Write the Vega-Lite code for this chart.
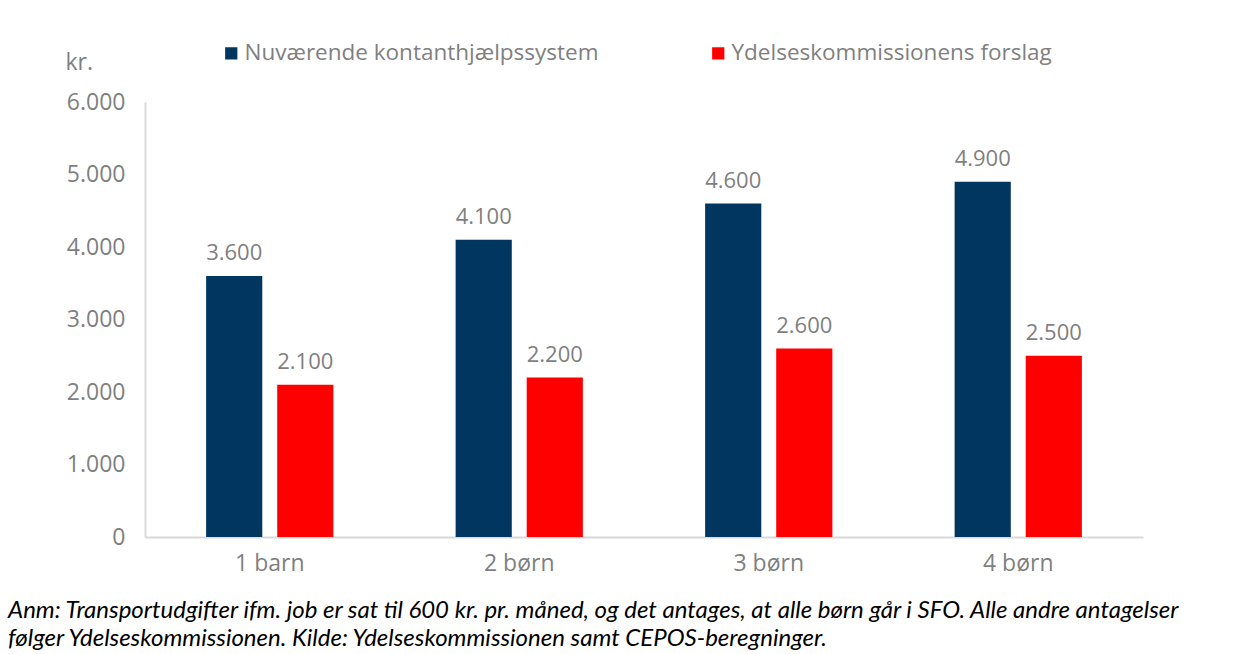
{
  "$schema": "https://vega.github.io/schema/vega-lite/v6.json",
  "autosize": {"type": "none"},
  "width": 998,
  "height": 435,
  "padding": {"left": 145, "top": 102, "right": 105, "bottom": 117},
  "background": "white",
  "config": {
    "locale": {"number": {"decimal": ",", "thousands": ".", "grouping": [3], "currency": ["", " kr."]}},
    "view": {"stroke": null},
    "font": "Open Sans"
  },
  "title": {
    "text": ["Anm: Transportudgifter ifm. job er sat til 600 kr. pr. måned, og det antages, at alle børn går i SFO. Alle andre antagelser", "følger Ydelseskommissionen. Kilde: Ydelseskommissionen samt CEPOS-beregninger."],
    "orient": "bottom",
    "anchor": "start",
    "frame": "group",
    "dx": -137,
    "offset": 24,
    "font": "Lato",
    "fontStyle": "italic",
    "fontWeight": "normal",
    "fontSize": 24,
    "lineHeight": 28,
    "color": "#000000"
  },
  "data": {
    "values": [
      {"gruppe": "1 barn", "serie": "Nuværende kontanthjælpssystem", "kr": 3600},
      {"gruppe": "1 barn", "serie": "Ydelseskommissionens forslag", "kr": 2100},
      {"gruppe": "2 børn", "serie": "Nuværende kontanthjælpssystem", "kr": 4100},
      {"gruppe": "2 børn", "serie": "Ydelseskommissionens forslag", "kr": 2200},
      {"gruppe": "3 børn", "serie": "Nuværende kontanthjælpssystem", "kr": 4600},
      {"gruppe": "3 børn", "serie": "Ydelseskommissionens forslag", "kr": 2600},
      {"gruppe": "4 børn", "serie": "Nuværende kontanthjælpssystem", "kr": 4900},
      {"gruppe": "4 børn", "serie": "Ydelseskommissionens forslag", "kr": 2500}
    ]
  },
  "encoding": {
    "x": {
      "field": "gruppe", "type": "nominal",
      "scale": {"paddingInner": 0.49, "paddingOuter": 0.245},
      "axis": {
        "title": null, "labelAngle": 0, "ticks": false, "labelPadding": 15,
        "labelFont": "Open Sans", "labelFontSize": 23, "labelColor": "#7f7f7f",
        "domainColor": "#d9d9d9", "domainWidth": 2
      }
    },
    "xOffset": {"field": "serie", "type": "nominal", "scale": {"paddingInner": 0.21, "paddingOuter": 0}},
    "y": {
      "field": "kr", "type": "quantitative",
      "scale": {"domain": [0, 6000]},
      "axis": {
        "title": "kr.", "titleAngle": 0, "titleAlign": "left", "titleBaseline": "middle",
        "titleX": -80, "titleY": -40, "titleFont": "Open Sans", "titleFontSize": 23,
        "titleFontWeight": "normal", "titleColor": "#7f7f7f",
        "values": [0, 1000, 2000, 3000, 4000, 5000, 6000], "format": ",d",
        "grid": false, "ticks": false, "labelPadding": 20,
        "labelFont": "Open Sans", "labelFontSize": 23, "labelColor": "#7f7f7f",
        "domainColor": "#d9d9d9", "domainWidth": 2
      }
    }
  },
  "layer": [
    {
      "mark": {"type": "bar"},
      "encoding": {
        "color": {
          "field": "serie", "type": "nominal",
          "scale": {"range": ["#003660", "#ff0000"]},
          "legend": {
            "title": null, "orient": "none", "direction": "horizontal",
            "legendX": 75, "legendY": -60,
            "symbolType": "square", "symbolSize": 150, "symbolStrokeWidth": 0,
            "labelFont": "Open Sans", "labelFontSize": 22.5, "labelColor": "#7f7f7f",
            "labelLimit": 0, "labelOffset": 2, "columnPadding": 108
          }
        }
      }
    },
    {
      "mark": {"type": "text", "baseline": "alphabetic", "dy": -16, "font": "Open Sans", "fontSize": 22, "color": "#7f7f7f"},
      "encoding": {
        "text": {"field": "kr", "type": "quantitative", "format": ",d"}
      }
    }
  ]
}
